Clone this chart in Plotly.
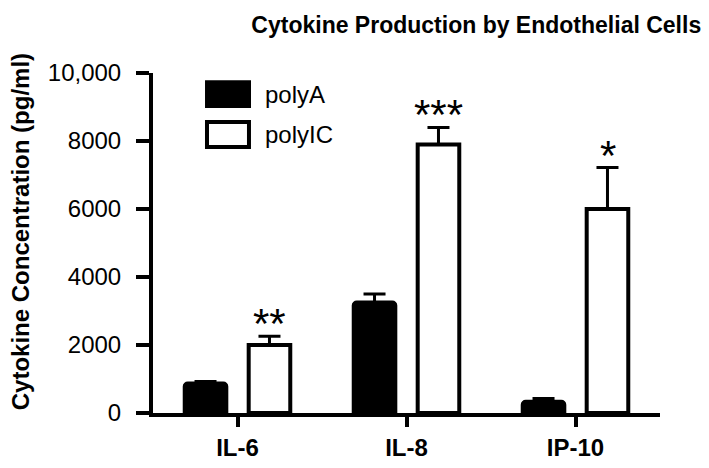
import plotly.graph_objects as go

# data
categories = ["IL-6", "IL-8", "IP-10"]
polyA = [870, 3250, 330]
polyA_err = [60, 250, 100]
polyIC = [2000, 7900, 6000]
polyIC_err = [260, 500, 1220]
stars = ["**", "***", "*"]

y_ticks = [0, 2000, 4000, 6000, 8000, 10000]
y_ticktext = ["0", "2000", "4000", "6000", "8000", "10,000"]

FONT = "Arial, Liberation Sans, sans-serif"

fig = go.Figure()

fig.add_trace(go.Bar(
    x=categories, y=polyA, name="polyA",
    marker=dict(color="black", line=dict(color="black", width=4), cornerradius=3),
    error_y=dict(type="data", array=polyA_err, symmetric=False,
                 arrayminus=[0] * len(polyA_err),
                 color="black", thickness=3, width=11),
))
fig.add_trace(go.Bar(
    x=categories, y=polyIC, name="polyIC",
    marker=dict(color="white", line=dict(color="black", width=4)),
    error_y=dict(type="data", array=polyIC_err, symmetric=False,
                 arrayminus=[0] * len(polyIC_err),
                 color="black", thickness=3, width=11),
))

# significance stars above the polyIC error bars
for cat, v, e, s in zip(categories, polyIC, polyIC_err, stars):
    fig.add_annotation(
        x=cat, y=v + e, text=s, showarrow=False,
        xref="x", yref="y", xanchor="center", yanchor="bottom",
        xshift=32, yshift=-13,
        font=dict(family=FONT, size=42, color="black"),
    )

# hand drawn legend (big swatches like the original)
fig.add_shape(type="rect", xref="paper", yref="paper",
              x0=0.1026, x1=0.1933, y0=0.897, y1=0.979,
              fillcolor="black", line=dict(width=0))
fig.add_shape(type="rect", xref="paper", yref="paper",
              x0=0.1065, x1=0.1893, y0=0.782, y1=0.856,
              fillcolor="white", line=dict(color="black", width=4))
for txt, ypos in [("polyA", 0.938), ("polyIC", 0.818)]:
    fig.add_annotation(
        x=0.217, y=ypos, xref="paper", yref="paper", text=txt,
        showarrow=False, xanchor="left", yanchor="middle",
        font=dict(family=FONT, size=24, color="black"),
    )

# y axis title as an annotation so it can sit a bit above centre
fig.add_annotation(
    x=-0.262, y=0.532, xref="paper", yref="paper",
    text="Cytokine Concentration (pg/ml)", textangle=-90, showarrow=False,
    xanchor="center", yanchor="middle",
    font=dict(family=FONT, size=24, weight="bold", color="black"),
)

# page body has an 8px margin, so the figure is 8px smaller than the window
fig.update_layout(
    width=701, height=460,
    margin=dict(l=145, r=49, t=65, b=55),
    paper_bgcolor="white", plot_bgcolor="white",
    barmode="group", bargap=0.243, bargroupgap=0.35,
    showlegend=False,
    font=dict(family=FONT, color="black"),
    title=dict(text="Cytokine Production by Endothelial Cells",
               x=0.668, xanchor="center", xref="container",
               y=0.963, yanchor="middle", yref="container",
               font=dict(family=FONT, size=23, weight="bold", color="black")),
)

fig.update_xaxes(
    range=[-0.5, 2.5], showline=True, linecolor="black", linewidth=4,
    ticks="outside", ticklen=10, tickwidth=4, tickcolor="black",
    showgrid=False, zeroline=False, automargin=False,
    tickfont=dict(family=FONT, size=24, weight="bold", color="black"),
)
fig.update_yaxes(
    range=[0, 10000], tickvals=y_ticks, ticktext=y_ticktext,
    showline=True, linecolor="black", linewidth=4,
    ticks="outside", ticklen=13, tickwidth=4, tickcolor="black",
    ticklabelstandoff=10,
    showgrid=False, zeroline=False, automargin=False,
    tickfont=dict(family=FONT, size=24, color="black"),
)

fig.write_html("out.html")
